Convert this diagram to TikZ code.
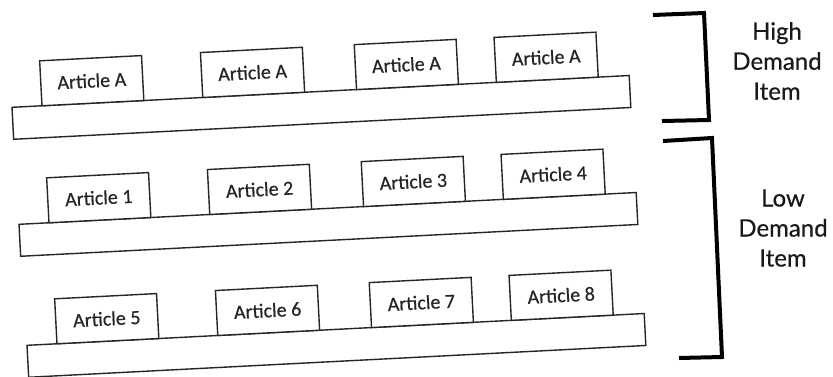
\documentclass[tikz,border=0pt]{standalone}
\usepackage{fontspec}
\setmainfont{Carlito}[FakeBold=0.6]
\newfontfamily\labelfont{Lato}[FakeBold=0.4]
\begin{document}
\begin{tikzpicture}[x=1pt,y=-1pt,
  shelfbar/.style={draw=black!85, line width=1.4pt, fill=white, minimum width=618pt, minimum height=32pt, inner sep=0pt, anchor=south west, transform shape},
  article/.style={draw=black!85, line width=1.4pt, fill=white, minimum width=102pt, minimum height=45pt, inner sep=0pt, anchor=south west, transform shape, font=\fontsize{20}{23}\selectfont, text=black!85},
  bracket/.style={line width=4pt, line join=miter, line cap=butt},
  demand/.style={font=\labelfont\fontsize{24}{30}\selectfont, align=center, text=black!90}]
\fill[white] (0,0) rectangle (833,376);
\useasboundingbox (0,0) rectangle (833,376);

\begin{scope}[shift={(13,140)}, rotate=2.95]
  \node[shelfbar] (s1) at (0,0) {};
  \node[article] (a1) at (30,-32) {Article A};
  \node[article] (a2) at (191,-32) {Article A};
  \node[article] (a3) at (345,-32) {Article A};
  \node[article] (a4) at (485,-32) {Article A};
\end{scope}

\begin{scope}[shift={(20,257)}, rotate=2.95]
  \node[shelfbar] (s2) at (0,0) {};
  \node[article] (b1) at (30,-32) {Article 1};
  \node[article] (b2) at (191,-32) {Article 2};
  \node[article] (b3) at (345,-32) {Article 3};
  \node[article] (b4) at (485,-32) {Article 4};
\end{scope}

\begin{scope}[shift={(28,378)}, rotate=2.95]
  \node[shelfbar] (s3) at (0,0) {};
  \node[article] (c1) at (30,-32) {Article 5};
  \node[article] (c2) at (191,-32) {Article 6};
  \node[article] (c3) at (345,-32) {Article 7};
  \node[article] (c4) at (485,-32) {Article 8};
\end{scope}

\draw[bracket] (653,15) -- (704,13) -- (709,120) -- (662,121);
\draw[bracket] (663,141) -- (712,138) -- (722,357) -- (679,358);

\node[demand] (high) at (777,61) {High\\Demand\\Item};
\node[demand] (low) at (783,228) {Low\\Demand\\Item};
\end{tikzpicture}
\end{document}
